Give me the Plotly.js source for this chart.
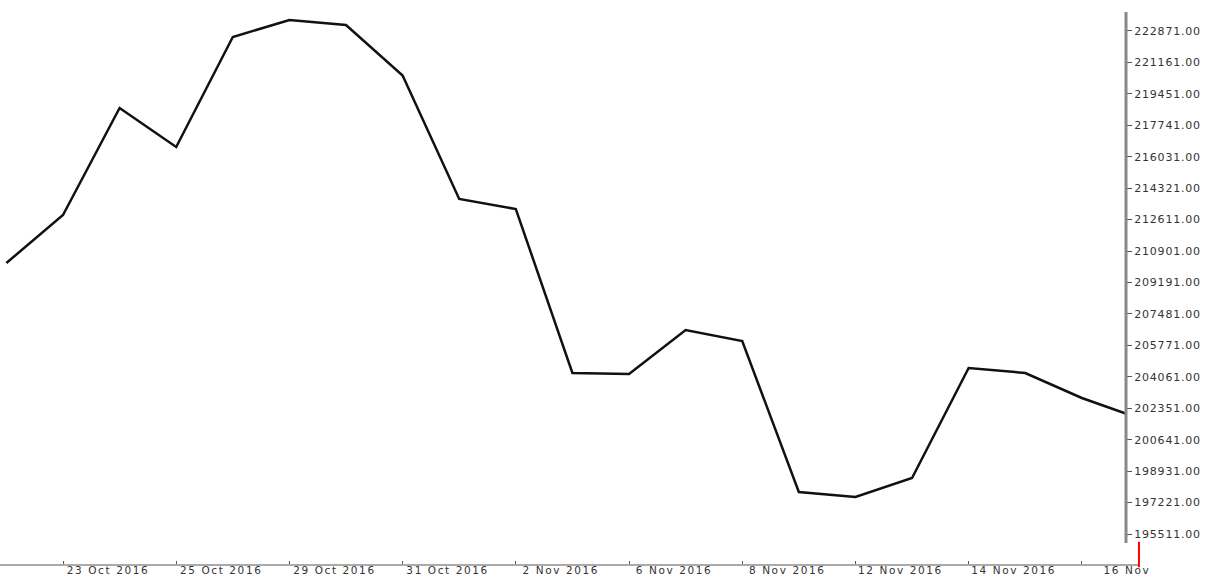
<!DOCTYPE html>
<html>
<head>
<meta charset="utf-8">
<script src="https://cdn.plot.ly/plotly-3.0.1.min.js"></script>
<style>
  html, body { margin: 0; padding: 0; background: #fff; }
  #chart { width: 1214px; height: 578px; }
  .ytick text { letter-spacing: 0.8px; }
  .xtick text { letter-spacing: 1.6px; }
</style>
</head>
<body>
<div id="chart"></div>
<script>
// Category dates (one point per trading session shown)
const dates = [
  "22 Oct 2016", "23 Oct 2016", "24 Oct 2016", "25 Oct 2016", "27 Oct 2016",
  "29 Oct 2016", "30 Oct 2016", "31 Oct 2016", "1 Nov 2016", "2 Nov 2016",
  "4 Nov 2016", "6 Nov 2016", "7 Nov 2016", "8 Nov 2016", "10 Nov 2016",
  "12 Nov 2016", "13 Nov 2016", "14 Nov 2016", "15 Nov 2016", "16 Nov 2016",
  "17 Nov 2016"
];
// Values
const values = [
  210251, 212861, 218681, 216560, 222543,
  223467, 223196, 220449, 213732, 213188,
  204268, 204213, 206607, 206008, 197795,
  197523, 198557, 204540, 204268, 202908,
  201820
];
// Labelled ticks on the date axis
const tickDates = [
  "23 Oct 2016", "25 Oct 2016", "29 Oct 2016", "31 Oct 2016", "2 Nov 2016",
  "6 Nov 2016", "8 Nov 2016", "12 Nov 2016", "14 Nov 2016", "16 Nov 2016"
];
const tickLabels = [
  "23 Oct 2016", "25 Oct 2016", "29 Oct 2016", "31 Oct 2016", "2 Nov 2016",
  "6 Nov 2016", "8 Nov 2016", "12 Nov 2016", "14 Nov 2016", "16 Nov"
];

const trace = {
  type: "scatter",
  mode: "lines",
  x: dates,
  y: values,
  line: { color: "#111111", width: 2.5 },
  hoverinfo: "x+y"
};

const axisFont = { family: "DejaVu Sans, Verdana, sans-serif", size: 11, color: "#333333" };

const layout = {
  width: 1214,
  height: 578,
  margin: { l: 0, r: 88, t: 12, b: 13, pad: 0 },
  paper_bgcolor: "#ffffff",
  plot_bgcolor: "#ffffff",
  showlegend: false,
  xaxis: {
    type: "category",
    range: [-0.113, 19.78],
    tickmode: "array",
    tickvals: tickDates,
    ticktext: tickLabels,
    ticks: "inside",
    ticklen: 4,
    tickwidth: 1,
    tickcolor: "#555555",
    ticklabelshift: 45,
    ticklabelstandoff: -3,
    tickfont: { family: "DejaVu Sans, Verdana, sans-serif", size: 10.5, color: "#333333" },
    showgrid: false,
    zeroline: false,
    showline: false,
    fixedrange: true
  },
  yaxis: {
    side: "right",
    range: [193825, 223903],
    tickmode: "linear",
    tick0: 195511,
    dtick: 1710,
    tickformat: ".2f",
    ticks: "outside",
    ticklen: 5,
    tickwidth: 1,
    tickcolor: "#555555",
    tickfont: axisFont,
    showgrid: false,
    zeroline: false,
    showline: false,
    fixedrange: true
  },
  shapes: [
    // right price-axis line
    { type: "line", xref: "paper", yref: "paper", x0: 1, x1: 1, y0: 0.04, y1: 1,
      line: { color: "#888888", width: 3 } },
    // bottom time-axis line
    { type: "line", xref: "paper", yref: "paper", x0: 0, x1: 1.0115, y0: 0, y1: 0,
      line: { color: "#aaaaaa", width: 2 } },
    // red marker at the right end of the time axis
    { type: "line", xref: "paper", yref: "paper", x0: 1.0115, x1: 1.0115, y0: -0.004, y1: 0.042,
      line: { color: "#ff0000", width: 2 } }
  ]
};

Plotly.newPlot("chart", [trace], layout, { displayModeBar: false, staticPlot: true });
</script>
</body>
</html>
